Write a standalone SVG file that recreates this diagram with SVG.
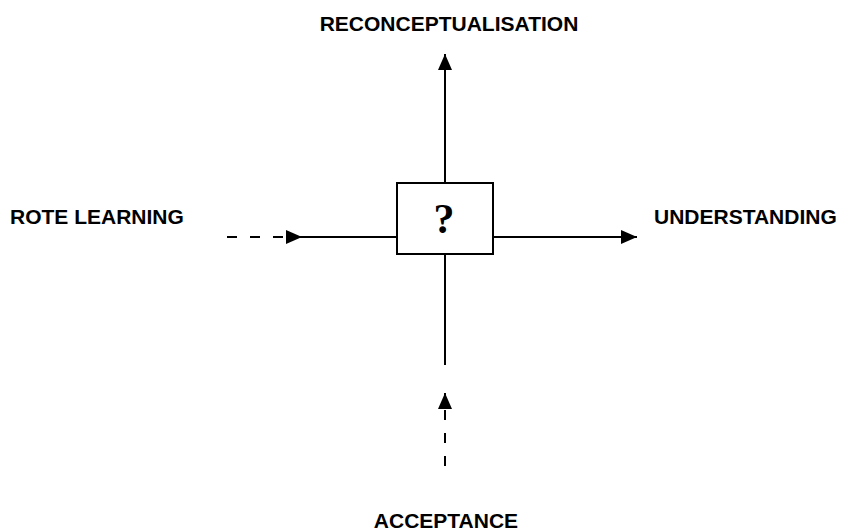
<svg xmlns="http://www.w3.org/2000/svg" width="846" height="531" viewBox="0 0 846 531">
<style>
.lbl{font-family:"Liberation Sans",Arial,sans-serif;font-weight:bold;font-size:21px;fill:#000}
.ln{stroke:#000;stroke-width:2;fill:none}
.dash{stroke-dasharray:10 13}
</style>
<defs>
<marker id="ah" viewBox="0 0 16 14" refX="16" refY="7" markerWidth="16" markerHeight="14" markerUnits="userSpaceOnUse" orient="auto">
<path d="M0,0 L16,7 L0,14 Z" fill="#000"/>
</marker>
</defs>
<rect width="846" height="531" fill="#fff"/>
<g id="connectors">
<line class="ln" x1="445" y1="183" x2="445" y2="54" marker-end="url(#ah)"/>
<line class="ln" x1="493" y1="237" x2="637" y2="237" marker-end="url(#ah)"/>
<line class="ln dash" x1="227" y1="237" x2="287" y2="237"/>
<line class="ln" x1="286" y1="237" x2="302" y2="237" marker-end="url(#ah)"/>
<line class="ln" x1="301" y1="237" x2="397" y2="237"/>
<line class="ln" x1="445" y1="254" x2="445" y2="365"/>
<line class="ln dash" x1="445" y1="466" x2="445" y2="406"/>
<line class="ln" x1="445" y1="408" x2="445" y2="393" marker-end="url(#ah)"/>
</g>
<g id="box">
<rect x="397" y="183" width="96" height="71" fill="#fff" stroke="#000" stroke-width="2"/>
<text x="444" y="233" text-anchor="middle" font-family="'Liberation Serif','Times New Roman',serif" font-weight="bold" font-size="42">?</text>
</g>
<g id="reconceptualisation"><text class="lbl" x="449" y="31" text-anchor="middle">RECONCEPTUALISATION</text></g>
<g id="rote-learning"><text class="lbl" x="10" y="224">ROTE LEARNING</text></g>
<g id="understanding"><text class="lbl" x="654" y="224">UNDERSTANDING</text></g>
<g id="acceptance"><text class="lbl" x="446" y="528" text-anchor="middle">ACCEPTANCE</text></g>
</svg>
